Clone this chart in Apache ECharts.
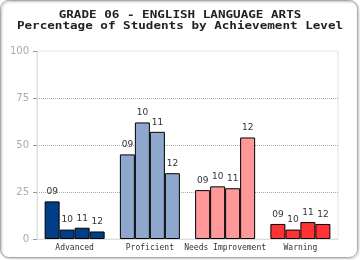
<!DOCTYPE html>
<html><head><meta charset="utf-8">
<script src="https://cdn.jsdelivr.net/npm/echarts@6/dist/echarts.min.js"></script>
<style>html,body{margin:0;padding:0;background:#fff}#c{width:360px;height:260px}</style>
</head><body><div id="c"></div>
<script>
const titleLines = ['GRADE 06 - ENGLISH LANGUAGE ARTS', 'Percentage of Students by Achievement Level'];
const categories = ['Advanced', 'Proficient', 'Needs Improvement', 'Warning'];
const categoryColors = ['#003f87', '#8fa7cc', '#ff9999', '#ff3333'];
const years = ['09', '10', '11', '12'];
const values09 = [20, 45, 26, 8];
const values10 = [5, 62, 28, 5];
const values11 = [6, 57, 27, 9];
const values12 = [4, 35, 54, 8];
const yTicks = [0, 25, 50, 75, 100];

const allValues = [values09, values10, values11, values12];
const chart = echarts.init(document.getElementById('c'), null, {renderer: 'canvas'});
const series = years.map((yr, si) => ({
  name: yr,
  type: 'bar',
  barWidth: 15,
  barGap: '0%',
  data: allValues[si].map((v, i) => ({value: v, itemStyle: {color: categoryColors[i]}})),
  itemStyle: {borderColor: '#000', borderWidth: 1},
  label: {show: true, position: 'top', distance: 5, formatter: yr,
    fontFamily: 'DejaVu Sans', fontSize: 9, color: '#333'},
  emphasis: {disabled: true},
  animation: false
}));
const titleY = [15, 26];
chart.setOption({
  animation: false,
  graphic: [{
    type: 'rect', shape: {x: 0.5, y: 0.5, width: 357, height: 257, r: 8},
    style: {fill: 'none', stroke: '#aaa', lineWidth: 1, shadowBlur: 2, shadowOffsetX: 1, shadowOffsetY: 1, shadowColor: 'rgba(0,0,0,0.35)'},
    silent: true, z: -1
  }].concat(titleLines.map((t, i) => ({
    type: 'text', x: 180, y: titleY[i], scaleX: 1.26, silent: true,
    style: {text: t, align: 'center', verticalAlign: 'middle',
      font: 'bold 10px "DejaVu Sans Mono"', fill: '#222'}
  }))),
  grid: {left: 37, right: 22, top: 51, bottom: 21, show: true, borderColor: '#e4e4e4', borderWidth: 1},
  xAxis: {
    type: 'category', data: categories,
    axisLine: {lineStyle: {color: '#ddd'}},
    axisTick: {show: false},
    axisLabel: {fontFamily: 'DejaVu Sans Mono', fontSize: 8, color: '#333', margin: 5, interval: 0}
  },
  yAxis: {
    type: 'value', min: yTicks[0], max: yTicks[yTicks.length - 1], interval: 25,
    axisLine: {show: true, lineStyle: {color: '#ddd'}},
    axisTick: {show: true, length: 4, lineStyle: {color: '#999'}},
    axisLabel: {fontFamily: 'DejaVu Sans', fontSize: 10, color: '#aaa', margin: 8},
    splitLine: {show: true, lineStyle: {color: ['#aaa', '#aaa', '#aaa', '#aaa', 'transparent'], type: [1, 1], width: 1}}
  },
  series: series
});
</script></body></html>
